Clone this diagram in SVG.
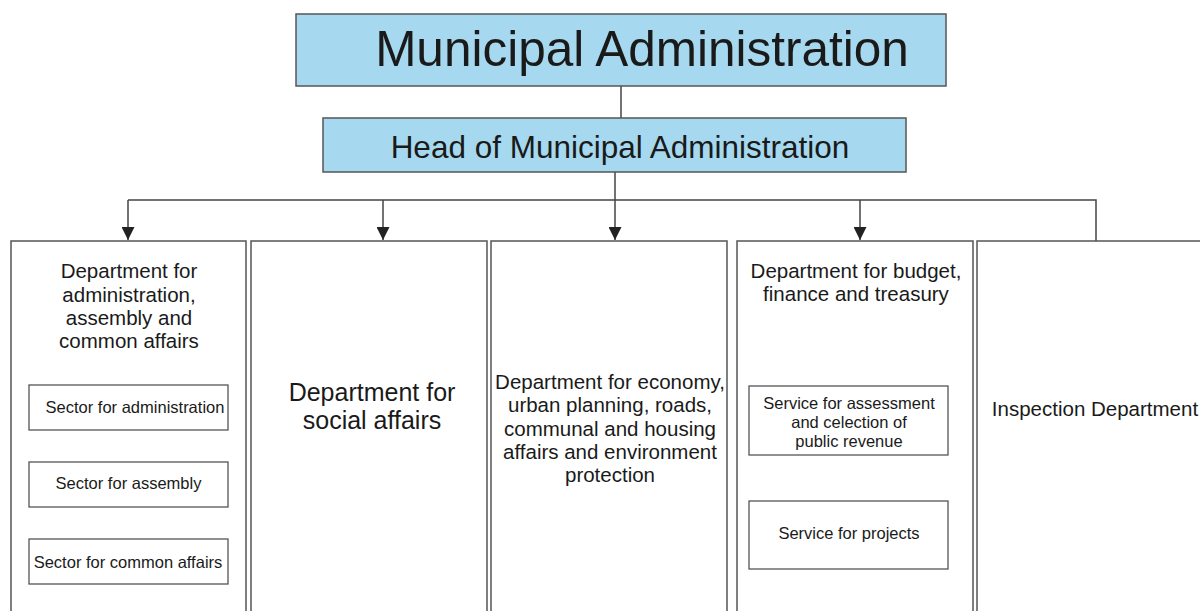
<svg xmlns="http://www.w3.org/2000/svg" width="1200" height="611" viewBox="0 0 1200 611">
<style>
text{font-family:"Liberation Sans",Arial,sans-serif;fill:#1a1a1a;text-anchor:middle}
.blue{fill:#a6d9ef;stroke:#555;stroke-width:1.5}
.box{fill:#fff;stroke:#555;stroke-width:1.5}
.sub{fill:#fff;stroke:#555;stroke-width:1.3}
.c{fill:none;stroke:#444;stroke-width:1.5}
.d{font-size:20.5px}
.s{font-size:16.5px}
</style>
<defs>
<marker id="arr" markerWidth="14" markerHeight="13" refX="13" refY="6.5" orient="auto" markerUnits="userSpaceOnUse">
<path d="M0,0 L13,6.5 L0,13 Z" fill="#222"/>
</marker>
</defs>
<rect width="1200" height="611" fill="#fff"/>
<g id="connectors">
<path class="c" d="M621,86 V118"/>
<path class="c" d="M615,172 V200"/>
<path class="c" d="M128,200 H1096 V241"/>
<path class="c" d="M128,200 V240" marker-end="url(#arr)"/>
<path class="c" d="M383,200 V240" marker-end="url(#arr)"/>
<path class="c" d="M615,200 V240" marker-end="url(#arr)"/>
<path class="c" d="M860,200 V240" marker-end="url(#arr)"/>
</g>
<g id="municipal-administration">
<rect class="blue" x="296" y="14" width="650" height="72"/>
<text x="642" y="66" font-size="49.5">Municipal Administration</text>
</g>
<g id="head">
<rect class="blue" x="323" y="118" width="583" height="54"/>
<text x="620" y="158" font-size="31.5">Head of Municipal Administration</text>
</g>
<g id="dept-admin">
<rect class="box" x="11" y="241" width="235" height="380"/>
<text class="d" x="129"><tspan x="129" y="278">Department for</tspan><tspan x="129" y="301.5">administration,</tspan><tspan x="129" y="325">assembly and</tspan><tspan x="129" y="348">common affairs</tspan></text>
</g>
<g id="sector-administration">
<rect class="sub" x="29" y="385" width="199" height="45"/>
<text class="s" x="135" y="413">Sector for administration</text>
</g>
<g id="sector-assembly">
<rect class="sub" x="29" y="462" width="199" height="45"/>
<text class="s" x="128.5" y="489">Sector for assembly</text>
</g>
<g id="sector-common">
<rect class="sub" x="29" y="539" width="199" height="45"/>
<text class="s" x="128" y="568">Sector for common affairs</text>
</g>
<g id="dept-social">
<rect class="box" x="251" y="241" width="236" height="380"/>
<text x="372" font-size="25"><tspan x="372" y="401">Department for</tspan><tspan x="372" y="429">social affairs</tspan></text>
</g>
<g id="dept-economy">
<rect class="box" x="491" y="241" width="236" height="380"/>
<text class="d" x="610"><tspan x="610" y="389">Department for economy,</tspan><tspan x="610" y="412">urban planning, roads,</tspan><tspan x="610" y="436">communal and housing</tspan><tspan x="610" y="459">affairs and environment</tspan><tspan x="610" y="482">protection</tspan></text>
</g>
<g id="dept-budget">
<rect class="box" x="737" y="241" width="236" height="380"/>
<text class="d" x="856"><tspan x="856" y="278">Department for budget,</tspan><tspan x="856" y="301">finance and treasury</tspan></text>
</g>
<g id="service-assessment">
<rect class="sub" x="749" y="386" width="199" height="69"/>
<text class="s" x="849"><tspan x="849" y="409">Service for assessment</tspan><tspan x="849" y="428">and celection of</tspan><tspan x="849" y="447">public revenue</tspan></text>
</g>
<g id="service-projects">
<rect class="sub" x="749" y="501" width="199" height="68"/>
<text class="s" x="849" y="539">Service for projects</text>
</g>
<g id="dept-inspection">
<rect class="box" x="977" y="241" width="240" height="380"/>
<text class="d" x="1095" y="416">Inspection Department</text>
</g>
</svg>
